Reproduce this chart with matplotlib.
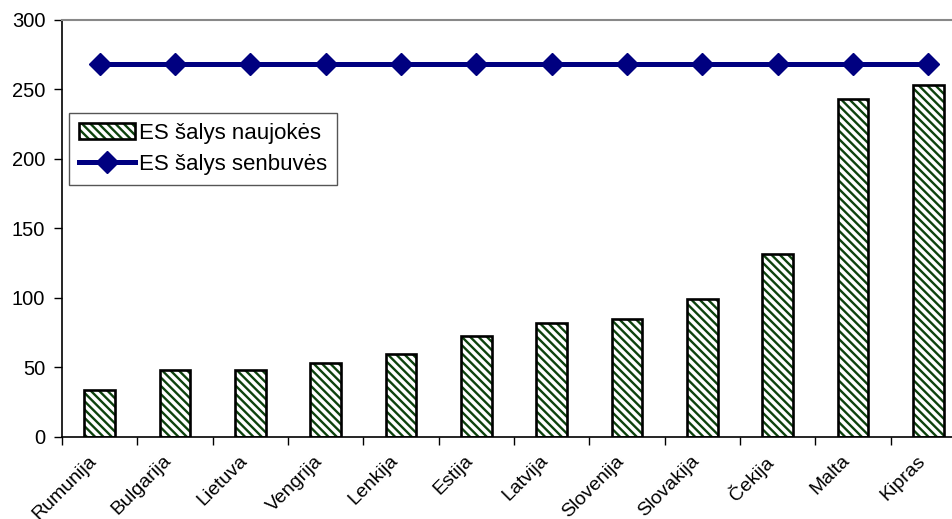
import numpy as np
import matplotlib.pyplot as plt
from matplotlib.lines import Line2D
import matplotlib.patches as mpatches
from matplotlib.ticker import FixedLocator

plt.rcParams['font.family'] = ['Liberation Sans', 'DejaVu Sans']
plt.rcParams['hatch.linewidth'] = 1.7

# duomenys
salys = ['Rumunija', 'Bulgarija', 'Lietuva', 'Vengrija', 'Lenkija', 'Estija',
         'Latvija', 'Slovenija', 'Slovakija', 'Čekija', 'Malta', 'Kipras']
naujokes = [34, 48, 48, 53, 60, 73, 82, 85, 99, 132, 243, 253]
senbuves = [268] * len(salys)

hatch_col = '#0d420d'
line_col = '#000080'

fig = plt.figure(figsize=(9.53, 5.19), dpi=100)
ax = fig.add_axes([0.0651, 0.158, 0.9486, 0.8035])

x = np.arange(len(salys))
# stulpeliai: užbrūkšniavimas atskirai nuo juodo krašto
ax.bar(x, naujokes, width=0.41, color='white', edgecolor=hatch_col,
       hatch='\\\\\\\\', linewidth=0, zorder=2)
ax.bar(x, naujokes, width=0.41, color='none', edgecolor='black',
       linewidth=1.9, zorder=3)

ax.plot(x, senbuves, color=line_col, linewidth=3.6, marker='D',
        markersize=11, zorder=4)

ax.set_xlim(-0.5, len(salys) - 0.5)
ax.set_ylim(0, 300)
ax.set_yticks(range(0, 301, 50))
ax.tick_params(axis='y', direction='out', length=6, width=1, labelsize=14.5, pad=6)

ax.set_xticks(x)
ax.set_xticklabels(salys, rotation=45, ha='right', va='top', fontsize=14)
ax.tick_params(axis='x', which='major', length=0, pad=11)
ax.xaxis.set_minor_locator(FixedLocator(np.arange(-0.5, len(salys), 1)))
ax.tick_params(axis='x', which='minor', direction='out', length=6, width=1)

ax.spines['left'].set_linewidth(1.2)
ax.spines['bottom'].set_linewidth(1.2)
ax.spines['top'].set_color('#888888')
ax.spines['top'].set_linewidth(1.5)
ax.spines['right'].set_visible(False)

h_bar = (mpatches.Patch(facecolor='white', edgecolor=hatch_col, hatch='\\\\\\\\', linewidth=0),
         mpatches.Patch(facecolor='none', edgecolor='black', linewidth=1.9))
h_line = Line2D([], [], color=line_col, linewidth=3.6, marker='D', markersize=11)
leg = ax.legend([h_bar, h_line], ['ES šalys naujokės', 'ES šalys senbuvės'],
                loc='upper left', bbox_to_anchor=(0.0077, 0.777), borderaxespad=0,
                fontsize=16, fancybox=False, framealpha=1, edgecolor='#555555',
                handlelength=2.5, handletextpad=0.2, borderpad=0.45, labelspacing=0.45)
leg.get_frame().set_linewidth(1.0)

fig.savefig('out.png', dpi=100)
